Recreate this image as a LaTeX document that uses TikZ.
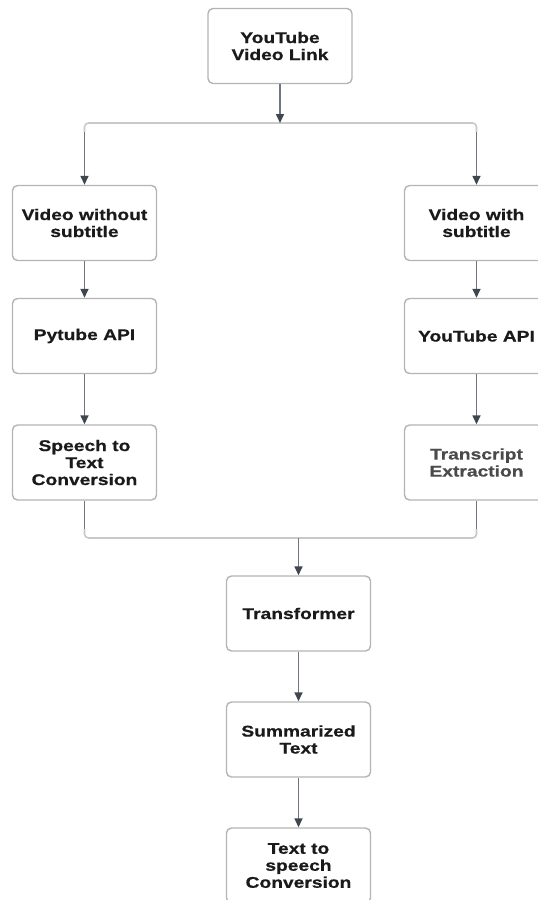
\documentclass[tikz,border=0pt]{standalone}
\usepackage{fontspec}
\setmainfont{Liberation Sans}[FakeStretch=1.24, BoldFeatures={FakeBold=0.6}]
\usetikzlibrary{arrows.meta,calc}
\definecolor{boxline}{HTML}{B4B4B4}
\definecolor{txt}{HTML}{1A1A1A}
\definecolor{txtlight}{HTML}{4A4A4A}
\definecolor{arrline}{HTML}{6F7682}
\definecolor{tipcol}{HTML}{3F4650}
\definecolor{hcol}{HTML}{C9C9C9}
\tikzset{
  stepbox/.style={draw=boxline, line width=1.4pt, rounded corners=5pt, fill=white,
    minimum width=144pt, minimum height=75pt, inner sep=0pt, align=center,
    text=txt, font=\fontsize{15.5}{17}\selectfont\bfseries},
  lightbox/.style={stepbox, text=txtlight},
  arr/.style={draw=arrline, line width=1.5pt, -{Triangle[length=9pt,width=8pt,fill=tipcol,color=tipcol]}},
  vline/.style={draw=arrline, line width=1.5pt},
  hline/.style={draw=hcol, line width=1.6pt, rounded corners=4pt},
}
\begin{document}
\begin{tikzpicture}[x=1pt,y=-1pt]
\useasboundingbox (0,0) rectangle (538,900);
\clip (0,0) rectangle (538,900);
\fill[white] (0,0) rectangle (538,900);
% nodes
\node[stepbox] (yt) at (280,46) {YouTube\\Video Link};
\node[stepbox] (v1) at (84.5,223) {Video without\\subtitle};
\node[stepbox] (v2) at (84.5,336) {Pytube API};
\node[stepbox] (v3) at (84.5,462.5) {Speech to\\Text\\Conversion};
\node[stepbox] (w1) at (476.5,223) {Video with\\subtitle};
\node[stepbox] (w2) at (476.5,336) {YouTube API};
\node[lightbox] (w3) at (476.5,462.5) {Transcript\\Extraction};
\node[stepbox] (tr) at (298.5,613.5) {Transformer};
\node[stepbox] (su) at (298.5,739.5) {Summarized\\Text};
\node[stepbox] (ts) at (298.5,865.5) {Text to\\speech\\Conversion};
% junction coordinates
\coordinate (jT) at (280,123);
\coordinate (cL) at (84.5,123);
\coordinate (cR) at (476.5,123);
\coordinate (cL2) at (84.5,132);
\coordinate (cR2) at (476.5,132);
\coordinate (jB) at (298.5,538);
\coordinate (bL) at (84.5,538);
\coordinate (bR) at (476.5,538);
\coordinate (bL2) at (84.5,529);
\coordinate (bR2) at (476.5,529);
% top split
\draw[hline] (cL2) -- (cL) -- (cR) -- (cR2);
\draw[arr] (yt.south) -- (jT);
\draw[arr] (cL2) -- (v1.north);
\draw[arr] (cR2) -- (w1.north);
% columns
\draw[arr] (v1.south) -- (v2.north);
\draw[arr] (v2.south) -- (v3.north);
\draw[arr] (w1.south) -- (w2.north);
\draw[arr] (w2.south) -- (w3.north);
% merge
\draw[hline] (bL2) -- (bL) -- (bR) -- (bR2);
\draw[vline] (v3.south) -- (bL2);
\draw[vline] (w3.south) -- (bR2);
\draw[arr] (jB) -- (tr.north);
\draw[arr] (tr.south) -- (su.north);
\draw[arr] (su.south) -- (ts.north);
\end{tikzpicture}
\end{document}
